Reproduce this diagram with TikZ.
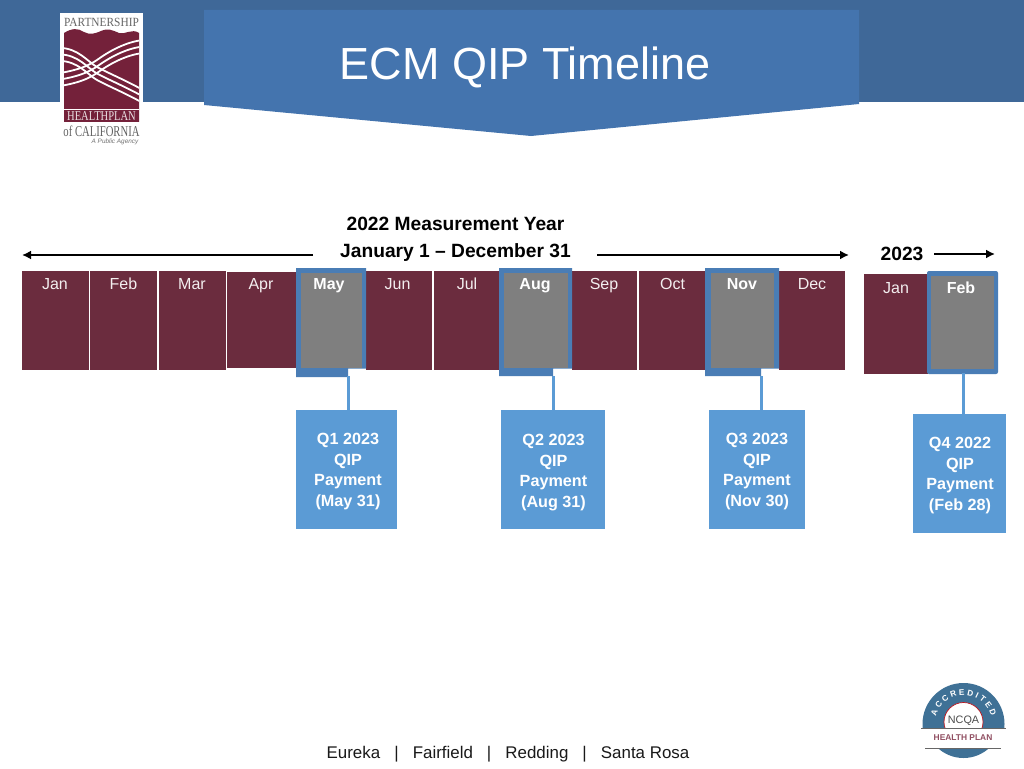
\documentclass[tikz,border=0pt]{standalone}
\usepackage{fontspec}
\setmainfont{Liberation Sans}
\newfontfamily\logoserif{Liberation Serif}
\usetikzlibrary{arrows.meta,decorations.text}
\definecolor{band}{HTML}{3F6898}
\definecolor{titleblue}{HTML}{4474AE}
\definecolor{maroon}{HTML}{6B2C3E}
\definecolor{logomaroon}{HTML}{74213A}
\definecolor{grayfill}{HTML}{7F7F7F}
\definecolor{outline}{HTML}{4A7DB5}
\definecolor{qblue}{HTML}{5B9BD5}
\definecolor{ncqablue}{HTML}{3F7196}
\tikzset{
  x=1pt,y=-1pt,
  monthbox/.style={fill=maroon,draw=none,inner sep=0pt,outer sep=0pt},
  monthtext/.style={text=white!92!maroon,font=\fontsize{16}{18}\selectfont,inner sep=0pt,anchor=base},
  hottext/.style={text=white,font=\fontsize{16}{18}\selectfont\bfseries,inner sep=0pt,anchor=base},
  qbox/.style={fill=qblue,inner sep=0pt,outer sep=0pt},
  qtext/.style={text=white,font=\fontsize{16.2}{20.4}\selectfont\bfseries,align=center,inner sep=0pt},
  qline/.style={draw=qblue,line width=3pt},
  yeararrow/.style={draw=black,line width=2pt,-{Latex[length=9pt,width=9pt]}},
  yeartext/.style={font=\fontsize{19.2}{21}\selectfont\bfseries,inner sep=0pt,anchor=base},
  ribbon/.style={draw=white,line width=1.8pt},
}
\newcommand{\monthrect}[5]{% name x1 y1 x2 y2
  \path[monthbox] (#2,#3) rectangle (#4,#5);
  \coordinate (#1) at (#2,#3);}
\begin{document}
\begin{tikzpicture}
\useasboundingbox (0,0) rectangle (1024,768);
\fill[white] (0,0) rectangle (1024,768);
% header
\fill[band] (0,0) rectangle (1024,102);
\fill[titleblue] (204,10) -- (859,10) -- (859,104) -- (531,136) -- (204,105) -- cycle;
\node[font=\fontsize{45}{50}\selectfont,text=white,inner sep=0pt,anchor=base] (title) at (525,79) {ECM QIP Timeline};
% logo
\fill[white] (60,13) rectangle (143,146);
\node[font=\logoserif\fontsize{12.5}{14}\selectfont,text=black!60,inner sep=0pt,anchor=base] (logoa) at (101.5,27) {\scalebox{0.91}[1]{PARTNERSHIP}};
\begin{scope}
\clip (64,33) .. controls (72,28) and (78,28) .. (84,32) .. controls (90,35) and (94,34) .. (101,31) .. controls (108,28) and (112,30) .. (119,33) .. controls (125,35) and (132,28) .. (139,33) -- (139,122) -- (64,122) -- cycle;
\fill[logomaroon] (60,25) rectangle (143,122);
\foreach \d in {0,6.5,13}{
  \draw[ribbon,yshift=-\d pt] (60,48) .. controls (78,48) and (88,62) .. (97,67) .. controls (108,73) and (125,80) .. (143,90);
  \draw[ribbon,yshift=-\d pt] (60,73) .. controls (78,70) and (88,66) .. (97,60) .. controls (108,52) and (125,42) .. (143,40);
}
\end{scope}
\draw[white,line width=1pt] (64,109.5) -- (139,109.5);
\node[font=\logoserif\fontsize{13.5}{14}\selectfont,text=white!85!maroon,inner sep=0pt,anchor=base] (logob) at (101.5,120.7) {\scalebox{0.78}[1]{HEALTHPLAN}};
\node[font=\logoserif\fontsize{15}{15}\selectfont,text=black!62,inner sep=0pt,anchor=base] (logoc) at (101.5,136.7) {\scalebox{0.71}[1]{of CALIFORNIA}};
\node[font=\fontsize{6.4}{7}\selectfont\itshape,text=black!55,inner sep=0pt,anchor=base] (logod) at (115,143.5) {A Public Agency};
% year labels
\node[yeartext] (my) at (455.5,230) {2022 Measurement Year};
\node[yeartext] (jd) at (455.5,257) {January 1 – December 31};
\node[yeartext] (y23) at (902,260.5) {2023};
\coordinate (al) at (22,255);
\coordinate (ar) at (849,255);
\coordinate (a3) at (995,254);
\draw[yeararrow] (313,255) -- (al);
\draw[yeararrow] (597,255) -- (ar);
\draw[yeararrow] (934,254) -- (a3);
% months
\monthrect{mjan}{22}{271}{89}{370}
\monthrect{mfeb}{90}{271}{157}{370}
\monthrect{mmar}{159}{271}{226}{370}
\monthrect{mapr}{227}{272}{296}{368}
\monthrect{mjun}{366}{271}{432}{370}
\monthrect{mjul}{433.5}{271}{499}{370}
\monthrect{msep}{572}{271}{637}{370}
\monthrect{moct}{639}{271}{705}{370}
\monthrect{mdec}{779}{271}{845}{370}
\monthrect{njan}{864}{274}{928}{374}
% highlighted months
\fill[outline] (296,268) rectangle (366,368.5) (296,368) rectangle (348,377);
\fill[grayfill] (300.5,272.5) rectangle (362,368);
\fill[outline] (499,268) rectangle (572,368.5) (499,368) rectangle (553,376);
\fill[grayfill] (503.5,272.5) rectangle (568,368);
\fill[outline] (705,268) rectangle (779,368.5) (705,368) rectangle (761,376);
\fill[grayfill] (711,272.5) rectangle (774,368);
\fill[outline,rounded corners=2pt] (927,271) rectangle (998,374);
\fill[grayfill] (931,276) rectangle (994,369);
% month labels
\foreach \n/\t/\x in {a/Jan/55,b/Feb/123.5,c/Mar/192,d/Apr/261,e/Jun/397.5,f/Jul/467,g/Sep/604,h/Oct/672.5,i/Dec/812}
  \node[monthtext] (lab\n) at (\x,289.5) {\t};
\foreach \n/\t/\x in {j/May/329,k/Aug/535,l/Nov/742}
  \node[hottext] (lab\n) at (\x,289.5) {\t};
\node[monthtext] (labm) at (896,293.5) {Jan};
\node[hottext] (labn) at (961,293) {Feb};
% anchors of connectors
\coordinate (mayb) at (348.5,376);
\coordinate (augb) at (553.5,376);
\coordinate (novb) at (761.5,376);
\coordinate (febb) at (963.5,373);
% boxes
\node[qbox,minimum width=101pt,minimum height=119pt] (q1) at (346.5,469.5) {};
\node[qbox,minimum width=104pt,minimum height=119pt] (q2) at (553,469.5) {};
\node[qbox,minimum width=96pt,minimum height=119pt] (q3) at (757,469.5) {};
\node[qbox,minimum width=93pt,minimum height=119pt] (q4) at (959.5,473.5) {};
\node[qtext] (q1t) at (348,471.5) {Q1 2023\\QIP\\Payment\\(May 31)};
\node[qtext] (q2t) at (553.5,472.5) {Q2 2023\\QIP\\Payment\\(Aug 31)};
\node[qtext] (q3t) at (757,471.5) {Q3 2023\\QIP\\Payment\\(Nov 30)};
\node[qtext] (q4t) at (960,475.5) {Q4 2022\\QIP\\Payment\\(Feb 28)};
\draw[qline] (mayb) -- (mayb |- q1.north);
\draw[qline] (augb) -- (augb |- q2.north);
\draw[qline] (novb) -- (novb |- q3.north);
\draw[qline] (febb) -- (febb |- q4.north);
% footer
\node[font=\fontsize{16.9}{18}\selectfont,inner sep=0pt,anchor=base,text=black!90] (foot) at (508,758) {Eureka\ \ \ |\ \ \ Fairfield\ \ \ |\ \ \ Redding\ \ \ |\ \ \ Santa Rosa};
% NCQA seal
\begin{scope}
\clip (915,680) rectangle (1012,728);
\fill[ncqablue] (963.5,724) circle (41);
\fill[white] (963.5,722) circle (19.5);
\draw[red!55!maroon,line width=0.7pt] (963.5,722) circle (19.5);
\end{scope}
\begin{scope}
\clip (915,748) rectangle (1012,765);
\fill[ncqablue] (963.5,720) circle (38);
\end{scope}
\draw[black!60,line width=0.8pt] (921,728) -- (1006,728);
\draw[black!60,line width=0.8pt] (925,748) -- (1001,748);
\path[decorate,decoration={text along path,text align={fit to path},text={|\fontsize{8.2}{9}\selectfont\bfseries\color{white}|ACCREDITED}}]
  (936,716.5) arc[start angle=195,end angle=345,radius=28.5];
\node[font=\fontsize{10.8}{12}\selectfont,text=black!70,inner sep=0pt,anchor=base] (ncqa) at (963.5,723) {NCQA};
\node[font=\fontsize{8.4}{10}\selectfont\bfseries,text=logomaroon!80,inner sep=0pt,anchor=base] (hp) at (963,740.7) {HEALTH PLAN};
\end{tikzpicture}
\end{document}
